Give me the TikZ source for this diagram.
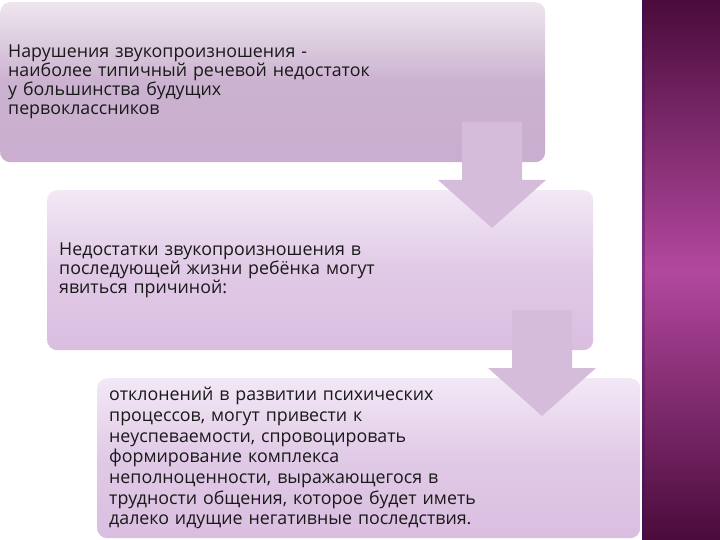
\documentclass[tikz,border=0pt]{standalone}
\usepackage{fontspec}
\setmainfont{Open Sans}
\usetikzlibrary{positioning}

\definecolor{stripdark}{HTML}{4A0C3B}
\definecolor{stripmid}{HTML}{B2489E}
\definecolor{firsttop}{HTML}{EEE5EF}
\definecolor{firstmid}{HTML}{CBB2D0}
\definecolor{firstbot}{HTML}{CAADCF}
\definecolor{nexttop}{HTML}{F3E8F6}
\definecolor{nextmid}{HTML}{E0CAE6}
\definecolor{nextbot}{HTML}{DABEE0}
\definecolor{arrowfill}{HTML}{D5BCDB}

\tikzset{
  stage/.style={anchor=north west, rounded corners=10pt, inner xsep=12pt,
    align=left, minimum height=160pt, text=black!90,
    font=\fontsize{17.8}{19}\selectfont},
  firststage/.style={stage, top color=firsttop, bottom color=firstbot, middle color=firstmid},
  nextstage/.style={stage, top color=nexttop, bottom color=nextbot, middle color=nextmid},
  downarrow/.style={fill=arrowfill}
}

\begin{document}
\begin{tikzpicture}[x=1pt,y=-1pt]
  \useasboundingbox (0,0) rectangle (720,540);
  % right strip
  \shade[top color=stripdark, bottom color=stripdark, middle color=stripmid] (642,0) rectangle (720,540);
  \fill[stripdark!80!blue, opacity=0.35] (642,0) rectangle (645,540);

  % three stages
  \node[firststage, inner xsep=8pt, text width=529pt] (first) at (0,2)
    {Нарушения звукопроизношения -\\наиболее типичный речевой недостаток\\у большинства будущих\\первоклассников};
  \node[nextstage, text width=522pt] (second) at (47,190)
    {Недостатки звукопроизношения в\\последующей жизни ребёнка могут\\явиться причиной:};
  \node[nextstage, text width=519pt, font=\fontsize{17.8}{20.7}\selectfont] (third) at (97,378)
    {отклонений в развитии психических\\процессов, могут привести к\\неуспеваемости, спровоцировать\\формирование комплекса\\неполноценности, выражающегося в\\трудности общения, которое будет иметь\\далеко идущие негативные последствия.};

  % block arrows
  \coordinate (a1) at (492,122);
  \coordinate (a2) at (542,310);
  \fill[downarrow] (a1) ++(-30,0) -- ++(60,0) -- ++(0,58) -- ++(24,0) -- ++(-54,48)
    -- ++(-54,-48) -- ++(24,0) -- cycle;
  \fill[downarrow] (a2) ++(-30,0) -- ++(60,0) -- ++(0,58) -- ++(24,0) -- ++(-54,48)
    -- ++(-54,-48) -- ++(24,0) -- cycle;
\end{tikzpicture}
\end{document}
